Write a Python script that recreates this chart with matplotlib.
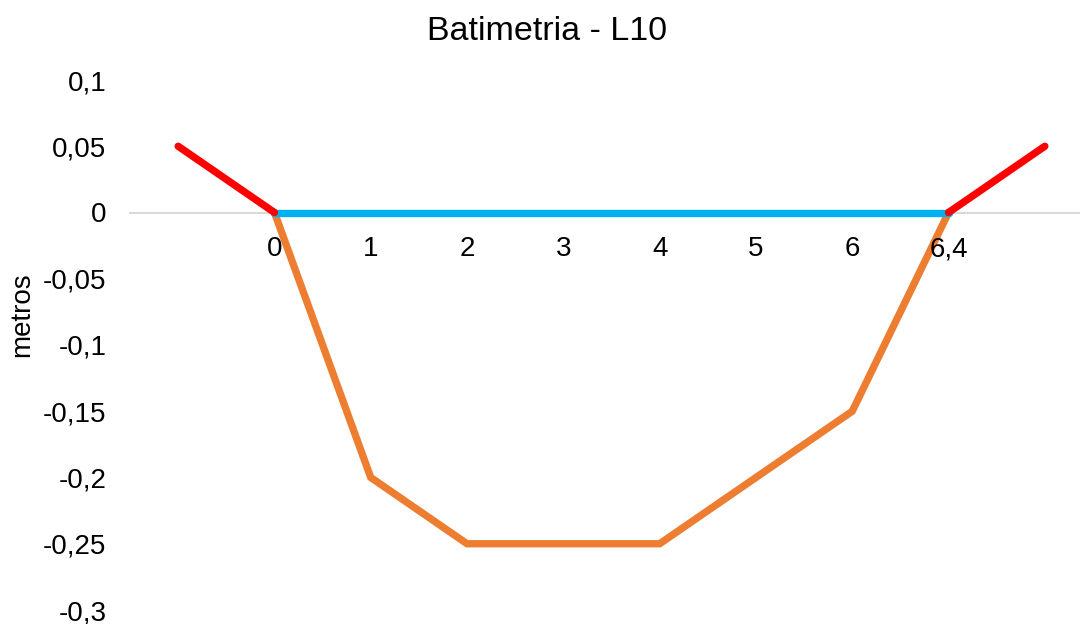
import matplotlib
matplotlib.use('Agg')
import numpy as np
import matplotlib.pyplot as plt

plt.rcParams['font.family'] = ['Liberation Sans', 'DejaVu Sans']

categories = ['', '0', '1', '2', '3', '4', '5', '6', '6,4', '']
nan = np.nan
bordo = [0.05, 0, nan, nan, nan, nan, nan, nan, 0, 0.05]
superficie = [nan, 0, 0, 0, 0, 0, 0, 0, 0, nan]
fondo = [nan, 0, -0.2, -0.25, -0.25, -0.25, -0.2, -0.15, 0, nan]
y_ticks = [-0.3, -0.25, -0.2, -0.15, -0.1, -0.05, 0, 0.05, 0.1]
y_labels = ['-0,3', '-0,25', '-0,2', '-0,15', '-0,1', '-0,05', '0', '0,05', '0,1']

fig = plt.figure(figsize=(10.8, 6.24), dpi=100)
ax = fig.add_axes([130 / 1080, 14 / 624, 950 / 1080, 530 / 624])

x = np.arange(len(categories))
ax.plot(x, fondo, color='#ED7D31', lw=5.3, solid_capstyle='round', solid_joinstyle='miter', zorder=3)
ax.plot(x, superficie, color='#00B0F0', lw=5.3, solid_capstyle='round', zorder=4)
ax.plot(x, bordo, color='#FF0000', lw=5.3, solid_capstyle='round', solid_joinstyle='miter', zorder=5)

ax.set_xlim(-0.5, 9.365)
ax.set_ylim(-0.3, 0.1)
ax.set_xticks(x)
ax.set_xticklabels(categories)
ax.set_yticks(y_ticks)
ax.set_yticklabels(y_labels)
ax.tick_params(axis='both', length=0, labelsize=20, colors='#000000')
ax.tick_params(axis='x', pad=17)
ax.tick_params(axis='y', pad=17)
ax.xaxis.set_zorder(6)  # labels over the lines, like the original

for s in ['left', 'top', 'right']:
    ax.spines[s].set_visible(False)
ax.spines['bottom'].set_position(('data', 0))
ax.spines['bottom'].set_color('#d9d9d9')
ax.spines['bottom'].set_linewidth(1.5)
ax.spines['bottom'].set_zorder(1)

fig.text(547 / 1080, 1 - 32 / 624, 'Batimetria - L10', fontsize=24.5, ha='center', va='center')
fig.text(22 / 1080, 1 - 315 / 624, 'metros', fontsize=20, rotation=90, ha='center', va='center')

plt.savefig('out.png', dpi=100)
